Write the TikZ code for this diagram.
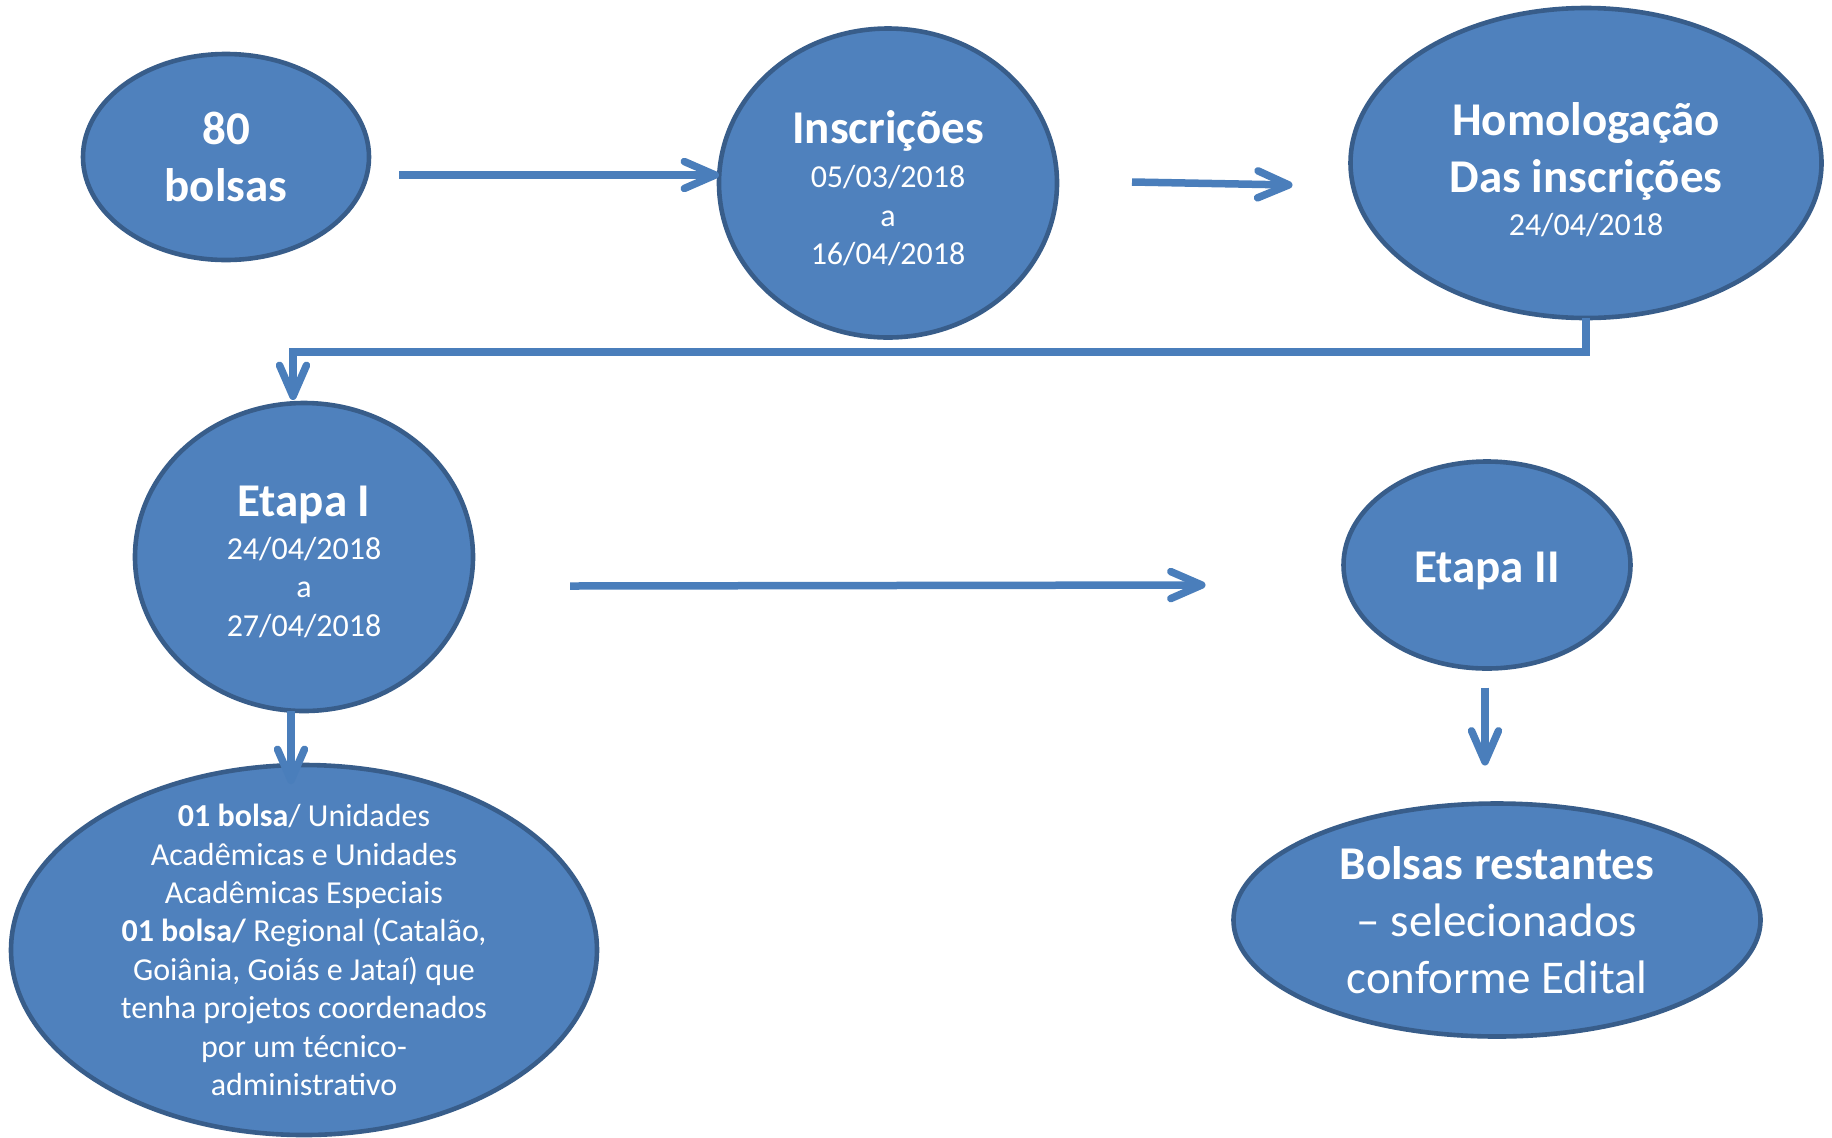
\documentclass[tikz,border=0pt]{standalone}
\usepackage{fontspec}
\setmainfont{Carlito}
\usetikzlibrary{shapes.geometric,arrows.meta,calc}
\definecolor{fillc}{HTML}{4F81BD}
\definecolor{bordc}{HTML}{385D8A}
\definecolor{connc}{HTML}{4A7EBB}
\newcommand\myLarge{\fontsize{23.5}{28.5}\selectfont\lineskiplimit=-50pt\relax}
\newcommand\mySmall{\fontsize{16}{19.2}\selectfont\lineskiplimit=-50pt\relax}
\begin{document}
\begin{tikzpicture}[x=0.5pt,y=-0.5pt,
  blob/.style={ellipse, draw=bordc, fill=fillc, line width=2.3pt, inner sep=0pt, outer sep=0pt},
  txt/.style={text=white, align=center, inner sep=0pt},
  conn/.style={draw=connc, line width=3.75pt, line join=miter,
    -{Straight Barb[length=15.5pt,width=13.5pt,round]}}]
\useasboundingbox (0,0) rectangle (1832,1137);
% ellipses
\node[blob, minimum width=143pt, minimum height=103pt] (e1) at (226,157) {};
\node[blob, minimum width=169pt, minimum height=154.5pt] (e2) at (888,183) {};
\node[blob, minimum width=235.5pt, minimum height=155pt] (e3) at (1586,163) {};
\node[blob, minimum width=169pt, minimum height=154pt] (e4) at (304,557) {};
\node[blob, minimum width=293pt, minimum height=185pt] (e5) at (304,950) {};
\node[blob, minimum width=143.5pt, minimum height=103.5pt] (e6) at (1487,565) {};
\node[blob, minimum width=263.5pt, minimum height=116.5pt] (e7) at (1497,920) {};
% texts
\node[txt, font=\myLarge\bfseries] (t1) at (e1.center) {80\\bolsas};
\node[txt, font=\mySmall] (t2) at ([yshift=-2.5pt]e2.center)
  {{\myLarge\bfseries Inscrições}\\[3pt]05/03/2018\\a\\16/04/2018};
\node[txt, font=\mySmall] (t3) at ([yshift=-3.5pt]e3.center)
  {{\myLarge\bfseries Homologação}\\[9pt]{\myLarge\bfseries Das inscrições}\\[2.5pt]24/04/2018};
\node[txt, font=\mySmall] (t4) at ([yshift=-2.5pt]e4.center)
  {{\myLarge\bfseries Etapa I}\\[2pt]24/04/2018\\a\\27/04/2018};
\node[txt, font=\mySmall] (t5) at (e5.center)
  {\textbf{01 bolsa}/ Unidades\\Acadêmicas e Unidades\\Acadêmicas Especiais\\
   \textbf{01 bolsa/} Regional (Catalão,\\Goiânia, Goiás e Jataí) que\\
   tenha projetos coordenados\\por um técnico-\\administrativo};
\node[txt, font=\myLarge\bfseries] (t6) at ([yshift=-3pt]e6.center) {Etapa II};
\node[txt, font=\myLarge] (t7) at (e7.center)
  {\textbf{Bolsas restantes}\\– selecionados\\conforme Edital};
% connectors
\draw[conn] ([xshift=15pt,yshift=-9pt]e1.east) -- ([yshift=4pt]e2.west);
\draw[conn] ([xshift=37.5pt,yshift=0.5pt]e2.east) -- ([xshift=-29pt,yshift=-11pt]e3.west);
\draw[conn] (e3.south) -- ++(0,34) -| ([xshift=-5.5pt,yshift=1.5pt]e4.north);
\draw[conn] ([xshift=-6.5pt]e4.south) -- ([xshift=-6.5pt,yshift=-9.5pt]e5.north);
\draw[conn] ([xshift=48.5pt,yshift=-14.5pt]e4.east) -- ([xshift=-69pt,yshift=-10pt]e6.west);
\draw[conn] ([xshift=-1pt,yshift=-9.5pt]e6.south) -- ([xshift=-6pt,yshift=19pt]e7.north);
\end{tikzpicture}
\end{document}
